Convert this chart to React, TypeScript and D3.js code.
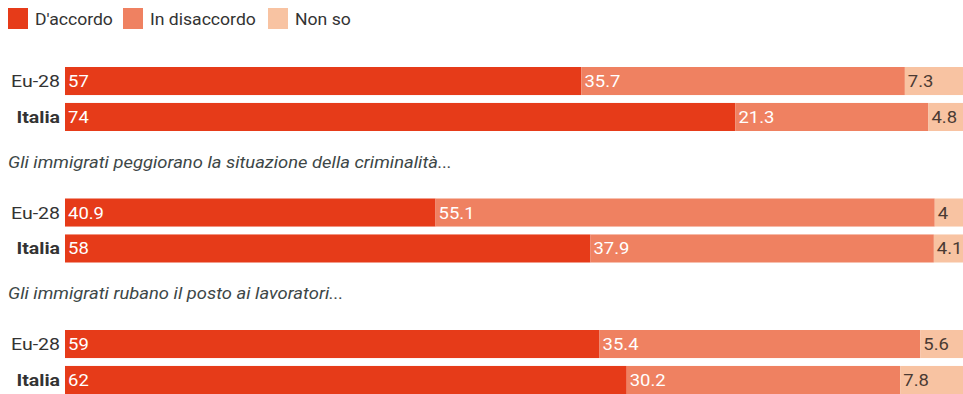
import React from "react";
import * as d3 from "d3";

const seriesNames = ["D'accordo", "In disaccordo", "Non so"];
const seriesColors = ["#e63b19", "#ef8161", "#f8c3a2"];
const rowLabels = ["Eu-28", "Italia"];
const groupTitles = ["", "Gli immigrati peggiorano la situazione della criminalità...", "Gli immigrati rubano il posto ai lavoratori..."];
const agree = [[57, 74], [40.9, 58], [59, 62]];
const disagree = [[35.7, 21.3], [55.1, 37.9], [35.4, 30.2]];
const dontKnow = [[7.3, 4.8], [4, 4.1], [5.6, 7.8]];

const W = 963;
const H = 394;
const x0 = 65;

export default function App() {
  const x = d3.scaleLinear().domain([0, 100]).range([x0, x0 + 906]);
  const groupY = d3.scaleLinear().domain([0, 1]).range([67, 198.5]);
  const rowY = d3.scaleBand().domain(rowLabels).range([0, 64]).paddingInner(0.22);
  const font = "Roboto, 'Noto Sans', sans-serif";
  const legendX = [8, 123, 268];

  return (
    <svg width={W} height={H} style={{ position: "absolute", left: 0, top: 0, display: "block", fontFamily: font }}>
      <rect x={0} y={0} width={W} height={H} fill="#fff" />
      {seriesNames.map((s, i) => (
        <g key={s} transform={`translate(${legendX[i]},8)`}>
          <rect x={0} y={0} width={20} height={21} fill={seriesColors[i]} />
          <text transform="translate(27,16.5) scale(1.1,1)" fontSize={16} fill="#333">{s}</text>
        </g>
      ))}
      {agree.map((ag, gi) => {
        const gy = groupY(gi);
        return (
          <g key={gi}>
            {groupTitles[gi] && (
              <text transform={`translate(8,${gy - 31}) scale(1.15,1)`} fontSize={16} fontStyle="italic" fill="#3d4747">{groupTitles[gi]}</text>
            )}
            {rowLabels.map((r, ri) => {
              const vals = [ag[ri], disagree[gi][ri], dontKnow[gi][ri]];
              const starts = d3.cumsum([0, ...vals]);
              const y = gy + (rowY(r) as number);
              const h = rowY.bandwidth();
              return (
                <g key={r}>
                  <text transform={`translate(${x0 - 5},${y + h / 2 + 6}) scale(1.15,1)`} textAnchor="end" fontSize={17} fontWeight={ri === 1 ? 700 : 400} fill="#333">{r}</text>
                  {vals.map((v, si) => (
                    <g key={si}>
                      <rect x={x(starts[si])} y={y} width={x(starts[si] + v) - x(starts[si])} height={h} fill={seriesColors[si]} />
                      <text transform={`translate(${x(starts[si]) + 3},${y + h / 2 + 6}) scale(1.12,1)`} fontSize={16.5} fontWeight={400} fill={si === 2 ? "#4a3a33" : "#fff"}>{String(v)}</text>
                    </g>
                  ))}
                </g>
              );
            })}
          </g>
        );
      })}
    </svg>
  );
}
